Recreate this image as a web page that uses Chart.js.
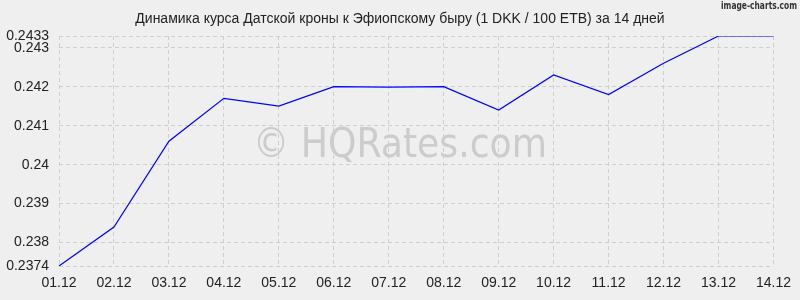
<!DOCTYPE html>
<html>
<head>
<meta charset="utf-8">
<script src="https://cdn.jsdelivr.net/npm/chart.js@4"></script>
<style>
  html, body { margin: 0; padding: 0; background: #efefef; }
  #wrap { width: 800px; height: 300px; }
</style>
</head>
<body>
<div id="wrap"><canvas id="rates" width="800" height="300"></canvas></div>
<script>
var labels = ['01.12', '02.12', '03.12', '04.12', '05.12', '06.12', '07.12',
              '08.12', '09.12', '10.12', '11.12', '12.12', '13.12', '14.12'];
var rates = [0.2374, 0.2384, 0.2406, 0.2417, 0.2415, 0.2420, 0.24199,
             0.2420, 0.2414, 0.2423, 0.2418, 0.2426, 0.2433, 0.2433];
var yTicks = [0.2374, 0.238, 0.239, 0.24, 0.241, 0.242, 0.243, 0.2433];
var titleText = 'Динамика курса Датской кроны к Эфиопскому быру (1 DKK / 100 ETB) за 14 дней';

var decor = {
    id: 'decor',
    beforeDraw: function(chart) {
        var ctx = chart.ctx;
        ctx.save();
        ctx.fillStyle = '#efefef';
        ctx.fillRect(0, 0, chart.width, chart.height);

        ctx.fillStyle = '#cccccc';
        ctx.font = '41px "DejaVu Sans"';
        ctx.textAlign = 'center';
        ctx.textBaseline = 'middle';
        ctx.fillText('© HQRates.com', 400, 146, 294);

        ctx.fillStyle = '#333333';
        ctx.font = 'bold 11px "DejaVu Sans"';
        ctx.textAlign = 'right';
        ctx.textBaseline = 'top';
        ctx.fillText('image-charts.com', 797, 1, 76);

        // title centred on the full picture, not on the plot
        ctx.fillStyle = '#222222';
        ctx.font = '14px "Liberation Sans", Arial';
        ctx.textAlign = 'center';
        ctx.textBaseline = 'middle';
        ctx.fillText(titleText, 400, 19);
        ctx.restore();
    }
};

var canvas = document.getElementById('rates');
var ctx = canvas.getContext('2d');

new Chart(ctx, {
    type: 'line',
    data: {
        labels: labels,
        datasets: [
            { data: rates, borderColor: '#0000ff', borderWidth: 1.2, pointRadius: 0, fill: false, tension: 0 }
        ]
    },
    options: {
        responsive: false,
        animation: false,
        layout: { padding: { left: 0, right: 21, top: 36, bottom: 0 } },
        plugins: {
            legend: { display: false },
            tooltip: { enabled: false },
            title: { display: false }
        },
        scales: {
            x: {
                grid: { color: '#cfcfcf', drawTicks: false },
                border: { display: false, dash: [4, 3] },
                ticks: {
                    color: '#222222', padding: 9, maxRotation: 0, autoSkip: false,
                    font: { family: '"Liberation Sans", Arial', size: 14 }
                },
                afterFit: function(scale) { scale.height = 34; }
            },
            y: {
                min: 0.2374,
                max: 0.2433,
                grid: { color: '#cfcfcf', drawTicks: false },
                border: { display: false, dash: [4, 3] },
                afterBuildTicks: function(scale) {
                    scale.ticks = yTicks.map(function(v) { return { value: v }; });
                },
                ticks: {
                    color: '#222222', padding: 10,
                    font: { family: '"Liberation Sans", Arial', size: 14 },
                    callback: function(v) { return String(+v.toFixed(4)); }
                },
                afterFit: function(scale) { scale.width = 59; }
            }
        }
    },
    plugins: [decor]
});
</script>
</body>
</html>
